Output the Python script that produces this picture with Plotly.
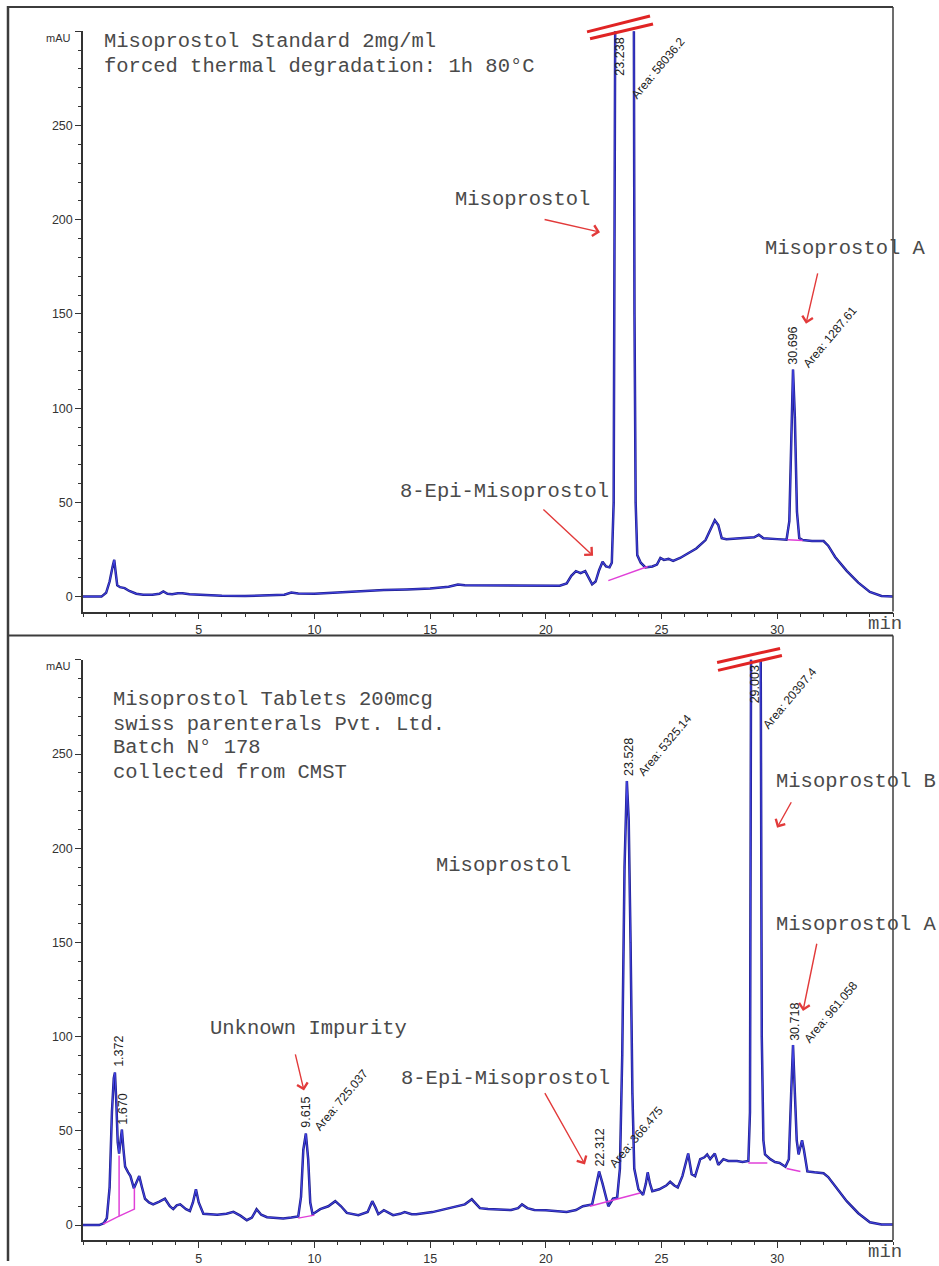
import plotly.graph_objects as go

# ---------------- data ----------------
X_RANGE = [0, 35]
Y_RANGE = [-8, 300]
X_TICKS = [5, 10, 15, 20, 25, 30]
Y_TICKS = [0, 50, 100, 150, 200, 250, 300]
Y_TICK_TEXT = ["0", "50", "100", "150", "200", "250", ""]

# Top chromatogram: Misoprostol standard, thermal degradation
TOP_RT = [0.0, 0.8, 1.0, 1.15, 1.28, 1.35, 1.42, 1.48, 1.6, 1.8, 2.0, 2.3, 2.6, 3.0, 3.3, 3.47,
          3.65, 3.85, 4.1, 4.3, 4.6, 5.0, 5.5, 6.0, 7.0, 8.0, 8.7, 9.0, 9.3, 10.0, 11.0, 12.0,
          13.0, 14.0, 15.0, 15.8, 16.2, 16.5, 17.0, 18.0, 19.0, 20.0, 20.6, 20.9, 21.1, 21.3,
          21.5, 21.7, 21.85, 22.0, 22.15, 22.3, 22.45, 22.6, 22.75, 22.85, 22.93, 22.98, 23.0,
          23.8, 23.83, 23.88, 23.95, 24.1, 24.3, 24.6, 24.8, 24.95, 25.1, 25.3, 25.5, 25.8,
          26.0, 26.5, 26.9, 27.1, 27.3, 27.45, 27.6, 27.8, 28.5, 29.0, 29.2, 29.4, 30.0, 30.4,
          30.52, 30.6, 30.68, 30.76, 30.85, 30.95, 31.1, 31.5, 32.0, 32.2, 32.5, 33.0, 33.5,
          34.0, 34.5, 35.0]
TOP_MAU = [0, 0, 2, 8, 16, 19.5, 12, 6, 5, 4.5, 3, 1.5, 1, 1, 1.5, 2.7,
           1.5, 1.2, 1.8, 1.8, 1.2, 1, 0.6, 0.5, 0.3, 0.6, 1, 2.2, 1.6, 1.5, 2.2, 3,
           3.5, 3.8, 4.3, 5.2, 6.4, 6, 6, 5.8, 5.6, 5.6, 5.8, 7, 11, 13.5,
           12.5, 13.5, 10, 6.5, 8, 14, 18.5, 16, 15.5, 18, 50, 200, 320,
           320, 150, 50, 22, 18, 15.5, 16, 17, 20.5, 19.5, 20, 19, 20.5,
           22, 25.5, 30, 35, 40.5, 38, 31, 30.5, 31, 31.5, 32.8, 31, 30.5, 30.2,
           40, 90, 120.5, 95, 45, 31, 30, 29.5, 29.5, 27, 21, 13.7, 7.4,
           2.5, 0.3, 0]

# Bottom chromatogram: Misoprostol tablets
BOT_RT = [0.0, 0.7, 0.9, 1.03, 1.15, 1.25, 1.33, 1.38, 1.44, 1.5, 1.56, 1.62, 1.68, 1.75, 1.82,
          1.95, 2.05, 2.2, 2.3, 2.43, 2.55, 2.68, 2.85, 3.03, 3.3, 3.54, 3.75, 3.9, 4.05, 4.2,
          4.45, 4.62, 4.75, 4.88, 5.0, 5.2, 5.8, 6.2, 6.5, 6.8, 7.08, 7.3, 7.5, 7.7, 7.95, 8.3,
          8.65, 9.0, 9.3, 9.42, 9.52, 9.63, 9.73, 9.82, 9.92, 10.25, 10.6, 10.9, 11.15, 11.4,
          11.9, 12.3, 12.5, 12.65, 12.76, 13.0, 13.4, 13.7, 13.9, 14.2, 14.4, 15.1, 15.86, 16.5,
          16.8, 17.15, 17.5, 18.0, 18.5, 18.8, 18.97, 19.2, 19.5, 20.0, 20.5, 20.9, 21.3, 21.6,
          22.0, 22.15, 22.3, 22.45, 22.56, 22.7, 22.8, 22.9, 23.08, 23.2, 23.3, 23.4, 23.5,
          23.58, 23.66, 23.74, 23.82, 24.0, 24.2, 24.32, 24.4, 24.5, 24.6, 24.9, 25.2, 25.37,
          25.55, 25.7, 25.9, 26.15, 26.3, 26.45, 26.67, 26.85, 26.97, 27.1, 27.3, 27.45, 27.67,
          27.88, 28.26, 28.5, 28.75, 28.82, 28.87, 29.28, 29.33, 29.4, 29.47, 29.7, 29.9, 30.1,
          30.35, 30.5, 30.6, 30.68, 30.76, 30.84, 30.92, 31.0, 31.07, 31.15, 31.3, 31.6, 32.0,
          32.2, 32.5, 33.0, 33.5, 34.0, 34.5, 35.0]
BOT_MAU = [0, 0, 1, 3.7, 20, 60, 78, 81, 65, 44, 38, 46, 50.7, 40, 31,
           28, 26, 19.5, 22, 26, 20, 14, 12, 11, 12.5, 14, 10, 8.5, 10.5, 11,
           8.5, 7.5, 12, 19, 12, 6, 5.5, 6, 7, 5, 2.6, 4, 8.4, 5.5, 4.2, 3.8,
           3.5, 4, 4.6, 15, 40, 48.6, 35, 12, 5.8, 8.5, 10, 12.7, 10, 6.5,
           5.3, 7, 12.7, 9, 5.8, 7.9, 5.3, 6, 6.9, 5.8, 5.8, 6.9, 9, 11,
           13.7, 9, 8.5, 8.3, 8, 9, 11, 9, 8, 7.9, 7.2, 7, 8, 10,
           11, 20, 28.5, 22, 16, 10, 12, 14, 14.5, 30, 90, 190, 235.7,
           215, 150, 70, 30, 19, 16, 22, 28, 22, 18, 19, 21, 23,
           21, 20, 26, 38, 27, 26, 35, 36, 37.5, 35, 38, 32, 35,
           34, 34, 33.5, 34, 60, 320, 320, 100, 45, 37.5, 35, 33.5, 33,
           31, 35, 70, 95.6, 70, 45, 37.5, 42, 45, 40, 28.5, 28, 27.5,
           25.5, 20.6, 12.7, 6.3, 1.5, 0.3, 0.3]

# integration baselines (pairs of (rt, mAU) points per segment)
TOP_BASELINES = [[(22.7, 8.5), (24.4, 16.0)],
                 [(30.45, 30.2), (31.1, 29.8)]]
BOT_BASELINES = [[(0.87, 0.5), (1.56, 4.8), (1.56, 37.0)],
                 [(1.56, 4.8), (2.22, 8.5), (2.22, 19.5)],
                 [(9.3, 3.7), (10.0, 5.3)],
                 [(21.9, 10.0), (24.07, 17.0)],
                 [(28.75, 33.0), (29.57, 33.0)],
                 [(30.4, 30.0), (31.0, 28.5)]]

# retention time labels (text, rt, mAU) and area labels
TOP_RT_LABELS = [("23.238", 23.2, 286.5), ("30.696", 30.64, 133.2)]
TOP_AREA_LABELS = [("Area: 58036.2", 24.85, 280.7), ("Area: 1287.61", 32.28, 137.9)]
BOT_RT_LABELS = [("1.372", 1.56, 92.0), ("1.670", 1.73, 61.3), ("9.615", 9.64, 59.7),
                 ("22.312", 22.38, 41.2), ("23.528", 23.59, 248.4), ("29.003", 29.04, 287.0),
                 ("30.718", 30.76, 107.8)]
BOT_AREA_LABELS = [("Area: 725.037", 11.15, 66.6), ("Area: 366.475", 23.9, 47.0),
                   ("Area: 5325.14", 25.15, 254.8), ("Area: 20397.4", 30.55, 279.6),
                   ("Area: 961.058", 32.32, 113.1)]

# notes (text, left rt, mAU)
TOP_NOTES = [("Misoprostol Standard 2mg/ml", 0.82, 294.4),
             ("forced thermal degradation: 1h 80°C", 0.82, 281.2),
             ("Misoprostol", 15.99, 210.9),
             ("Misoprostol A", 29.38, 184.5),
             ("8-Epi-Misoprostol", 13.61, 56.0)]
BOT_NOTES = [("Misoprostol Tablets 200mcg", 1.21, 279.1),
             ("swiss parenterals Pvt. Ltd.", 1.21, 265.9),
             ("Batch N° 178", 1.21, 253.2),
             ("collected from CMST", 1.21, 240.0),
             ("Misoprostol", 15.15, 190.8),
             ("Misoprostol B", 29.85, 235.2),
             ("Misoprostol A", 29.85, 159.6),
             ("Unknown Impurity", 5.4, 104.1),
             ("8-Epi-Misoprostol", 13.65, 77.7)]

# arrows: (tail, tip)
TOP_ARROWS = [((19.88, 200.3), (22.34, 193.4)),
              ((31.76, 172.3), (31.24, 144.8)),
              ((19.83, 47.0), (22.04, 21.7))]
BOT_ARROWS = [((30.64, 225.2), (29.99, 210.9)),
              ((31.72, 150.1), (31.11, 113.6)),
              ((9.16, 91.4), (9.55, 71.4)),
              ((19.92, 70.8), (21.69, 32.2))]

# scale-break marks over the off-scale peaks: (start, end)
TOP_BREAKS = [((21.78, 299.7), (24.5, 308.1)), ((21.91, 296.0), (24.63, 303.9))]
BOT_BREAKS = [((27.4, 298.6), (30.12, 306.0)), ((27.44, 294.4), (30.2, 302.3))]

# ---------------- figure ----------------
W, H = 939, 1266
MONO = "Liberation Mono"
SANS = "Liberation Sans"
NOTE_COLOR = "#4a4a4a"
ARROW_COLOR = "#e23a3a"


def px_x(p):
    return p / W


def px_y(p):
    return 1 - p / H


fig = go.Figure()

panels = [
    dict(xa="x", ya="y", rt=TOP_RT, mau=TOP_MAU, base=TOP_BASELINES, rtl=TOP_RT_LABELS,
         area=TOP_AREA_LABELS, notes=TOP_NOTES, arrows=TOP_ARROWS, breaks=TOP_BREAKS,
         unit_px=38, min_px=626),
    dict(xa="x2", ya="y2", rt=BOT_RT, mau=BOT_MAU, base=BOT_BASELINES, rtl=BOT_RT_LABELS,
         area=BOT_AREA_LABELS, notes=BOT_NOTES, arrows=BOT_ARROWS, breaks=BOT_BREAKS,
         unit_px=669, min_px=1257),
]

annotations = []
shapes = []

for p in panels:
    xa, ya = p["xa"], p["ya"]
    bx, by = [], []
    for seg in p["base"]:
        for (a, b) in seg:
            bx.append(a)
            by.append(b)
        bx.append(None)
        by.append(None)
    fig.add_trace(go.Scatter(x=p["rt"], y=p["mau"], mode="lines", xaxis=xa, yaxis=ya,
                             line=dict(color="#1f1f8a", width=2.5), hoverinfo="skip"))
    fig.add_trace(go.Scatter(x=p["rt"], y=p["mau"], mode="lines", xaxis=xa, yaxis=ya,
                             line=dict(color="#4444ea", width=1.0), hoverinfo="skip"))
    fig.add_trace(go.Scatter(x=bx, y=by, mode="lines", xaxis=xa, yaxis=ya,
                             line=dict(color="#e040d8", width=1.5), hoverinfo="skip",
                             connectgaps=False))

    for (t, x, y) in p["rtl"]:
        annotations.append(dict(text=t, x=x, y=y, xref=xa, yref=ya, showarrow=False,
                                textangle=-90, xanchor="center", yanchor="middle",
                                font=dict(family=SANS, size=12.5, color="#222")))
    for (t, x, y) in p["area"]:
        annotations.append(dict(text=t, x=x, y=y, xref=xa, yref=ya, showarrow=False,
                                textangle=-50, xanchor="center", yanchor="middle",
                                font=dict(family=SANS, size=12, color="#222")))
    for (t, x, y) in p["notes"]:
        annotations.append(dict(text=t, x=x, y=y, xref=xa, yref=ya, showarrow=False,
                                xanchor="left", yanchor="middle",
                                font=dict(family=MONO, size=20.5, color=NOTE_COLOR)))
    for (tail, tip) in p["arrows"]:
        annotations.append(dict(text="", x=tip[0], y=tip[1], ax=tail[0], ay=tail[1],
                                xref=xa, yref=ya, axref=xa, ayref=ya, showarrow=True,
                                arrowhead=4, arrowsize=1.5, arrowwidth=1.4,
                                arrowcolor=ARROW_COLOR, standoff=0))
    # unit and time labels (outside the axis ranges -> paper refs)
    annotations.append(dict(text="mAU", x=px_x(73), y=px_y(p["unit_px"]), xref="paper",
                            yref="paper", showarrow=False, xanchor="right", yanchor="middle",
                            font=dict(family=SANS, size=11, color="#333")))
    annotations.append(dict(text="min", x=px_x(885), y=px_y(p["min_px"]), xref="paper",
                            yref="paper", showarrow=False, xanchor="center", yanchor="middle",
                            font=dict(family=MONO, size=19, color=NOTE_COLOR)))
    for (s, e) in p["breaks"]:
        shapes.append(dict(type="line", xref=xa + " domain", yref=ya + " domain",
                           x0=(s[0] - X_RANGE[0]) / (X_RANGE[1] - X_RANGE[0]),
                           x1=(e[0] - X_RANGE[0]) / (X_RANGE[1] - X_RANGE[0]),
                           y0=(s[1] - Y_RANGE[0]) / (Y_RANGE[1] - Y_RANGE[0]),
                           y1=(e[1] - Y_RANGE[0]) / (Y_RANGE[1] - Y_RANGE[0]),
                           line=dict(color="#e02424", width=3)))

# outer frame / separators (page layout)
FRAME = "#3c3c3c"
shapes += [
    dict(type="line", xref="paper", yref="paper", x0=px_x(8), x1=px_x(8), y0=px_y(6), y1=0,
         line=dict(color=FRAME, width=2.5)),
    dict(type="line", xref="paper", yref="paper", x0=px_x(7), x1=px_x(893), y0=px_y(7), y1=px_y(7),
         line=dict(color=FRAME, width=2)),
    dict(type="line", xref="paper", yref="paper", x0=px_x(7), x1=px_x(893), y0=px_y(638), y1=px_y(638),
         line=dict(color=FRAME, width=2.2)),
    dict(type="line", xref="paper", yref="paper", x0=px_x(893), x1=px_x(893), y0=px_y(7), y1=px_y(614),
         line=dict(color=FRAME, width=1.5)),
    dict(type="line", xref="paper", yref="paper", x0=px_x(893), x1=px_x(893), y0=px_y(638), y1=px_y(1245),
         line=dict(color=FRAME, width=1.5)),
]

x_dom = [px_x(83), px_x(893)]
top_dom = [px_y(614.1), px_y(31.4)]
bot_dom = [px_y(1245.1), px_y(662.4)]

axis_common = dict(showline=True, linecolor="#333", linewidth=1.5, showgrid=False, zeroline=False,
                   ticks="outside", ticklen=6, tickwidth=1.2, tickcolor="#333",
                   tickfont=dict(family=SANS, size=12.5, color="#333"))
xaxis_common = dict(axis_common, range=X_RANGE, tickmode="array", tickvals=X_TICKS,
                    ticktext=[str(v) for v in X_TICKS],
                    minor=dict(tickmode="linear", tick0=0, dtick=1, ticks="outside", ticklen=3.5,
                               tickwidth=1, tickcolor="#333"))
yaxis_common = dict(axis_common, range=Y_RANGE, tickmode="array", tickvals=Y_TICKS,
                    ticktext=Y_TICK_TEXT,
                    minor=dict(tickmode="linear", tick0=0, dtick=10, ticks="outside", ticklen=3,
                               tickwidth=1, tickcolor="#333"))

fig.update_layout(
    width=W, height=H, autosize=False,
    margin=dict(l=0, r=0, t=0, b=0),
    paper_bgcolor="white", plot_bgcolor="white",
    showlegend=False,
    xaxis=dict(xaxis_common, domain=x_dom, anchor="y"),
    yaxis=dict(yaxis_common, domain=top_dom, anchor="x"),
    xaxis2=dict(xaxis_common, domain=x_dom, anchor="y2"),
    yaxis2=dict(yaxis_common, domain=bot_dom, anchor="x2"),
    annotations=annotations,
    shapes=shapes,
)

fig.write_html("out.html")
